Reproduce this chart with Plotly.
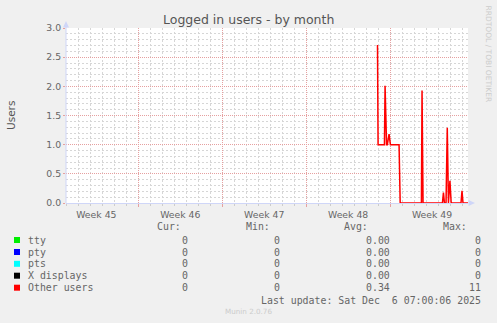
import plotly.graph_objects as go

# ---------------- data ----------------
other_times = [
    "2025-11-29 22:50", "2025-11-30 00:00", "2025-11-30 12:45", "2025-11-30 14:00",
    "2025-11-30 17:00", "2025-11-30 18:30", "2025-11-30 22:00", "2025-12-01 00:40",
    "2025-12-01 18:00", "2025-12-01 20:15", "2025-12-03 14:45", "2025-12-03 16:00",
    "2025-12-03 18:00", "2025-12-05 08:50", "2025-12-05 10:50", "2025-12-05 12:50",
    "2025-12-05 16:00", "2025-12-05 18:30", "2025-12-05 20:50", "2025-12-05 23:50",
    "2025-12-06 02:20", "2025-12-06 22:00", "2025-12-07 00:00", "2025-12-07 02:00",
    "2025-12-07 12:00",
]
other_values = [
    2.71, 1.0, 1.0, 2.01,
    1.0, 1.0, 1.18, 1.0,
    1.0, 0.0, 0.0, 1.93,
    0.0, 0.0, 0.18, 0.0,
    0.0, 1.29, 0.0, 0.38,
    0.0, 0.0, 0.21, 0.0,
    0.0,
]

legend_names = ["tty", "pty", "pts", "X displays", "Other users"]
legend_colors = ["#00ee00", "#0000ff", "#00ffff", "#000000", "#ff0000"]
cur_vals = ["0", "0", "0", "0", "0"]
min_vals = ["0", "0", "0", "0", "0"]
avg_vals = ["0.00", "0.00", "0.00", "0.00", "0.34"]
max_vals = ["0", "0", "0", "0", "11"]
col_headers = ["Cur:", "Min:", "Avg:", "Max:"]

x_range = ["2025-11-03 23:17", "2025-12-07 12:00"]
y_range = [0, 3]

# ---------------- layout helpers (pixel -> paper) ----------------
W, H = 497, 323
L, R, T, B = 66, 468, 28, 203


def px(x):
    return (x - L) / (R - L)


def py(y):
    return (B - y) / (B - T)


FONT = "DejaVu Sans"
MONO = "DejaVu Sans Mono"
FC = "#666666"
AXIS = "#CFD6F8"
MGRID = "#e6a0a0"
GRID = "#d6d6d6"

fig = go.Figure()
fig.add_trace(go.Scatter(
    x=other_times, y=other_values, mode="lines",
    line=dict(color="#ff0000", width=1.5), showlegend=False, hoverinfo="skip",
))

annotations = []
# title
annotations.append(dict(text="Logged in users - by month", x=px(248), y=py(19), xref="paper", yref="paper",
                        showarrow=False, font=dict(family=FONT, size=12.5, color="#555555"),
                        xanchor="center", yanchor="middle"))
# y label
annotations.append(dict(text="Users", x=px(10.5), y=py(115.5), xref="paper", yref="paper",
                        showarrow=False, textangle=-90, font=dict(family=FONT, size=10.5, color="#555555"),
                        xanchor="center", yanchor="middle"))
# rrdtool watermark
annotations.append(dict(text="RRDTOOL / TOBI OETIKER", x=px(488), y=py(53.5), xref="paper", yref="paper",
                        showarrow=False, textangle=90, font=dict(family=FONT, size=7.5, color="#cccccc"),
                        xanchor="center", yanchor="middle"))
# footer
annotations.append(dict(text="Munin 2.0.76", x=px(248.3), y=py(311.5), xref="paper", yref="paper",
                        showarrow=False, font=dict(family=FONT, size=7.2, color="#cccccc"),
                        xanchor="center", yanchor="middle"))

LEG_SIZE = 9.9
header_right = [181.7, 270.7, 369.3, 468.3]
value_right = [189.3, 281.3, 390.7, 482.3]
head_y = 226.7
row_y = [240.0, 252.0, 263.8, 275.7, 287.7]

for hx, ht in zip(header_right, col_headers):
    annotations.append(dict(text=ht, x=px(hx), y=py(head_y), xref="paper", yref="paper", showarrow=False,
                            font=dict(family=MONO, size=LEG_SIZE, color=FC), xanchor="right",
                            yanchor="middle", borderpad=0))

shapes = []
for i, name in enumerate(legend_names):
    yy = row_y[i]
    shapes.append(dict(type="rect", xref="paper", yref="paper", x0=px(14), x1=px(20),
                       y0=py(yy - 3), y1=py(yy + 3), fillcolor=legend_colors[i], line=dict(width=0)))
    annotations.append(dict(text=name, x=px(26.7), y=py(yy), xref="paper", yref="paper", showarrow=False,
                            font=dict(family=MONO, size=LEG_SIZE, color=FC), xanchor="left",
                            yanchor="middle", borderpad=0))
    for col, vals in enumerate([cur_vals, min_vals, avg_vals, max_vals]):
        annotations.append(dict(text=vals[i], x=px(value_right[col]), y=py(yy), xref="paper", yref="paper",
                                showarrow=False, font=dict(family=MONO, size=LEG_SIZE, color=FC),
                                xanchor="right", yanchor="middle", borderpad=0))

annotations.append(dict(text="Last update: Sat Dec  6 07:00:06 2025".replace(" ", "&nbsp;"),
                        x=px(482.3), y=py(300), xref="paper", yref="paper", showarrow=False,
                        font=dict(family=MONO, size=LEG_SIZE, color=FC), xanchor="right",
                        yanchor="middle", borderpad=0))

# axis arrows
shapes.append(dict(type="path", xref="paper", yref="paper",
                   path=f"M {px(63)} {py(27.5)} L {px(69)} {py(27.5)} L {px(66)} {py(21)} Z",
                   fillcolor=AXIS, line=dict(width=0)))
shapes.append(dict(type="path", xref="paper", yref="paper",
                   path=f"M {px(468.5)} {py(200)} L {px(468.5)} {py(206)} L {px(475)} {py(203)} Z",
                   fillcolor=AXIS, line=dict(width=0)))
shapes.append(dict(type="line", xref="paper", yref="paper", x0=px(66), x1=px(66), y0=py(203), y1=py(27),
                   line=dict(color=AXIS, width=1)))

fig.update_layout(
    width=W, height=H,
    margin=dict(l=L, r=W - R, t=T, b=H - B),
    paper_bgcolor="#f0f0f0", plot_bgcolor="#ffffff",
    showlegend=False,
    annotations=annotations, shapes=shapes,
    font=dict(family=FONT, color=FC),
)

fig.update_xaxes(
    type="date", range=x_range,
    tick0="2025-11-10", dtick=7 * 86400000,
    tickformat="Week %V", ticklabelmode="period",
    tickfont=dict(family=FONT, size=9.3, color=FC),
    showgrid=True, gridcolor=MGRID, griddash="1px,1px", gridwidth=1,
    ticks="outside", ticklen=3, tickcolor=MGRID,
    showline=True, linecolor=AXIS, linewidth=1,
    zeroline=False,
    minor=dict(dtick=86400000, tick0="2025-11-10", showgrid=True, gridcolor=GRID, griddash="2px,2px",
               ticks="outside", ticklen=2, tickcolor="#cccccc"),
    layer="below traces",
)
fig.update_yaxes(
    range=y_range, dtick=0.5, tick0=0, tickformat=".1f",
    tickfont=dict(family=FONT, size=9.3, color=FC),
    showgrid=True, gridcolor=MGRID, griddash="1px,1px", gridwidth=1,
    ticks="outside", ticklen=2, tickcolor=MGRID,
    showline=False, zeroline=False,
    minor=dict(dtick=0.1, showgrid=True, gridcolor=GRID, griddash="2px,2px"),
    layer="below traces",
)

fig.write_html("out.html")
